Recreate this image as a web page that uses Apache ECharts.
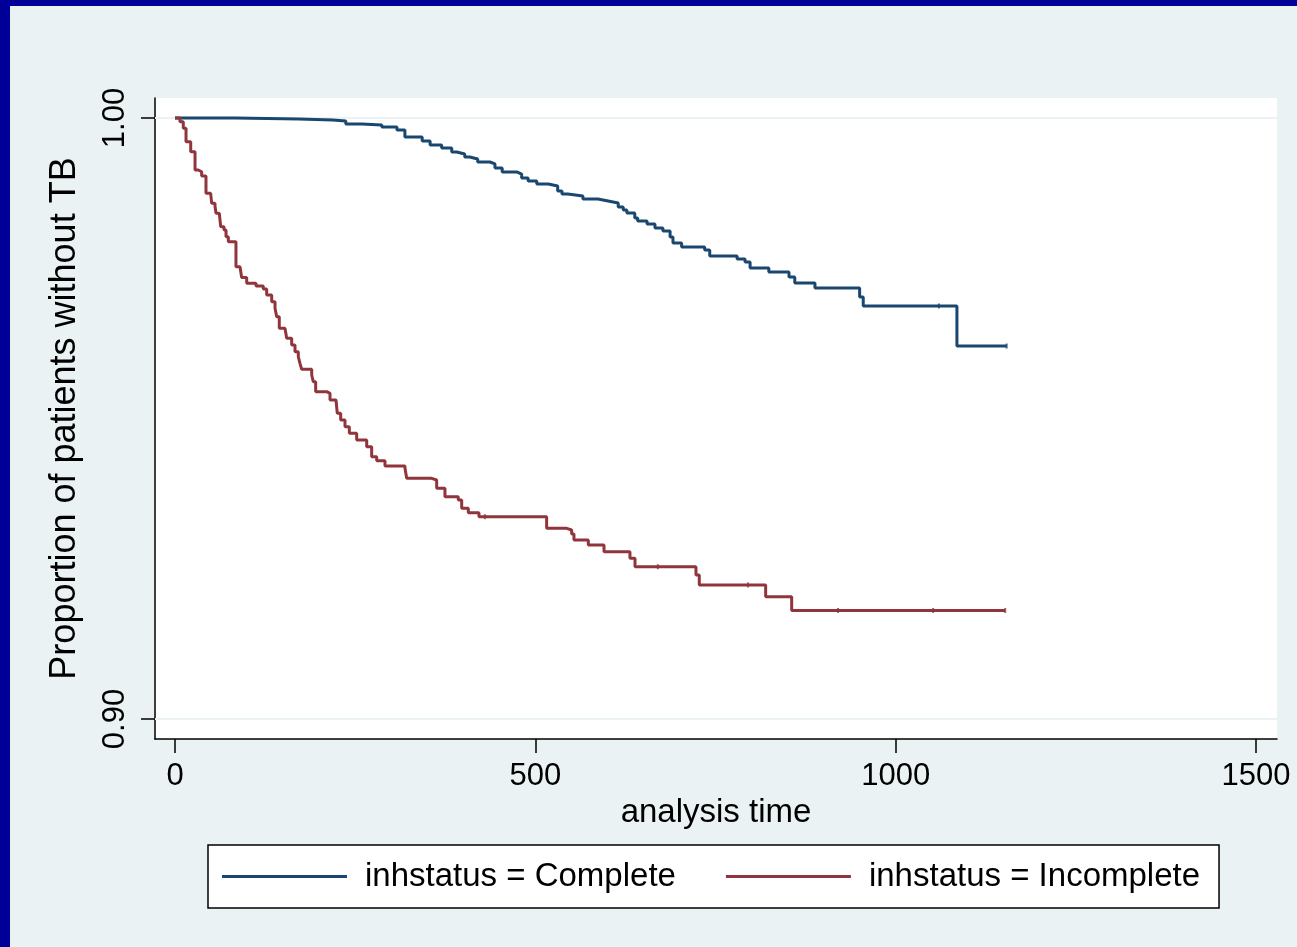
<!DOCTYPE html>
<html>
<head>
<meta charset="utf-8">
<script src="https://cdn.jsdelivr.net/npm/echarts@6/dist/echarts.min.js"></script>
<style>
html,body{margin:0;padding:0;background:#EAF2F3;}
#chart{width:1297px;height:947px;}
</style>
</head>
<body>
<div id="chart"></div>
<script>
// ---- data ----
const seriesNames = ['inhstatus = Complete', 'inhstatus = Incomplete'];
const xTicks = [0, 500, 1000, 1500];
const yTicks = [0.90, 1.00];

const completeT = [0,83,172,219,237,259,287,308,319,343,354,370,384,391,402,409,420,437,444,454,475,481,490,502,518,531,537,545,566,587,601,615,622,627,638,642,655,666,677,687,691,703,735,742,780,791,798,824,852,860,888,950,955,1085,1154];
const completeS = [1,0.99983,0.99967,0.9995,0.9990,0.99884,0.9985,0.9980,0.99684,0.99617,0.99551,0.99501,0.99434,0.99401,0.99351,0.99318,0.99268,0.99235,0.99168,0.99101,0.99068,0.99002,0.98952,0.98902,0.98869,0.98785,0.98735,0.98702,0.98652,0.98619,0.98586,0.98519,0.98469,0.98419,0.98336,0.98286,0.98236,0.98170,0.98120,0.98020,0.97920,0.97854,0.97804,0.97704,0.97654,0.97604,0.97504,0.97438,0.97354,0.97255,0.97171,0.97022,0.96872,0.96206,0.96206];
const completeCensor = [1060, 1154];

const incompleteT = [0,6.9,11.5,15.3,21.8,27.8,32.3,37.0,43.0,49.5,50.9,55.5,56.9,61.5,63.4,68.0,70.8,74.0,84.6,90.2,92.5,99.5,112.4,122.5,127.2,134.2,138.8,141.1,144.7,152.6,155.0,161.9,166.5,171.1,173.4,175.8,189.7,191.9,195.2,210.5,215.1,223.4,225.2,229.9,235.9,241.9,252.1,266.0,272.9,279.9,291.4,319.1,321.5,356.2,363.1,374.6,393.1,397.8,407.0,421.8,515.7,543.5,550.4,553.6,573.5,595.3,631.3,638.3,722.9,727.5,819.6,855.7,1151.7];
const incompleteS = [1,0.99938,0.99829,0.99606,0.99439,0.99135,0.99106,0.99035,0.98747,0.98719,0.98581,0.98536,0.98414,0.98386,0.98191,0.98136,0.98025,0.97942,0.97526,0.97499,0.97346,0.97250,0.97205,0.97155,0.97055,0.96943,0.96834,0.96694,0.96501,0.96473,0.96334,0.96223,0.96111,0.96028,0.95918,0.95819,0.95724,0.95612,0.95446,0.95419,0.95308,0.95280,0.95087,0.94975,0.94864,0.94754,0.94642,0.94531,0.94364,0.94298,0.94210,0.94176,0.94005,0.93977,0.93839,0.93699,0.93644,0.93506,0.93433,0.93366,0.93173,0.93145,0.93078,0.92978,0.92895,0.92784,0.92674,0.92534,0.92396,0.92230,0.92035,0.91806,0.91806];
const incompleteCensor = [430, 670, 795, 920, 1052, 1152];

// ---- helpers ----
function pairs(ts, ss){ return ts.map((t,i)=>[t, ss[i]]); }
function stepValue(ts, ss, t){ let v = ss[0]; for(let i=0;i<ts.length;i++){ if(ts[i] <= t) v = ss[i]; } return v; }
function censorPts(c, ts, ss){ return c.map(t=>[t, stepValue(ts, ss, t)]); }

const BLUE = '#1A476F', RED = '#90353B';
const FONT = 'Liberation Sans, Arial, Helvetica, sans-serif';
const X_MIN = -27.75, X_MAX = 1529.14;
const Y_MIN = 0.896672, Y_MAX = 1.003328;

const gridLineSeries = yTicks.map(v => ({
  type:'line', name:'gl'+v, data:[[X_MIN, v],[X_MAX, v]], symbol:'none', showSymbol:false, silent:true,
  lineStyle:{color:'#EAF2F3', width:2}, z:1, legendHoverLink:false, tooltip:{show:false}
}));

const chart = echarts.init(document.getElementById('chart'), null, {renderer:'canvas'});
chart.setOption({
  backgroundColor: '#EAF2F3',
  animation: false,
  textStyle: {fontFamily: FONT, color: '#000'},
  graphic: [
    {type:'rect', left:0, top:0, shape:{width:10, height:947}, style:{fill:'#000099'}, z:100},
    {type:'rect', left:0, top:0, shape:{width:1297, height:6}, style:{fill:'#000099'}, z:100}
  ],
  grid: {left:155, top:98, width:1122, height:641, show:true, backgroundColor:'#ffffff', borderWidth:0, containLabel:false},
  legend: {
    left: 208, top: 845,
    data: [{name:seriesNames[0], itemStyle:{color:BLUE}}, {name:seriesNames[1], itemStyle:{color:RED}}],
    icon: 'rect',
    backgroundColor:'#ffffff', borderColor:'#000', borderWidth:1.5, borderRadius:0,
    padding:[15,19,15,14],
    itemWidth:125, itemHeight:3, itemGap:50,
    textStyle:{fontSize:33, fontFamily:FONT, color:'#000', padding:[0,0,0,13]},
    selectedMode:false
  },
  xAxis: {
    type:'value', min:X_MIN, max:X_MAX,
    name:'analysis time', nameLocation:'middle', nameGap:56,
    nameTextStyle:{fontSize:33, fontFamily:FONT, color:'#000'},
    axisLine:{show:true, onZero:false, lineStyle:{color:'#000', width:1.5}},
    axisTick:{show:true, customValues:xTicks, length:14, lineStyle:{color:'#000', width:1.5}},
    axisLabel:{show:true, customValues:xTicks, fontSize:31, color:'#000', fontFamily:FONT, margin:22,
      formatter:(v)=>String(Math.round(v))},
    splitLine:{show:false}
  },
  yAxis: {
    type:'value', min:Y_MIN, max:Y_MAX,
    name:'Proportion of patients without TB', nameLocation:'middle', nameGap:72, nameRotate:90,
    nameTextStyle:{fontSize:36, fontFamily:FONT, color:'#000'},
    axisLine:{show:true, onZero:false, lineStyle:{color:'#000', width:1.5}},
    axisTick:{show:true, customValues:yTicks, length:14, lineStyle:{color:'#000', width:1.5}},
    axisLabel:{show:true, customValues:yTicks, rotate:90, fontSize:31, color:'#000', fontFamily:FONT, margin:24,
      formatter:(v)=>Number(v).toFixed(2)},
    splitLine:{show:false}
  },
  series: gridLineSeries.concat([
    {type:'line', name:seriesNames[0], data:pairs(completeT, completeS), step:'end', showSymbol:false, symbol:'none',
      color:BLUE, lineStyle:{color:BLUE, width:3}, itemStyle:{color:BLUE}, z:3},
    {type:'line', name:seriesNames[1], data:pairs(incompleteT, incompleteS), step:'end', showSymbol:false, symbol:'none',
      color:RED, lineStyle:{color:RED, width:3}, itemStyle:{color:RED}, z:3},
    {type:'scatter', name:'c1', data:censorPts(completeCensor, completeT, completeS), symbol:'rect', symbolSize:[2,5],
      itemStyle:{color:BLUE}, z:4, silent:true},
    {type:'scatter', name:'c2', data:censorPts(incompleteCensor, incompleteT, incompleteS), symbol:'rect', symbolSize:[2,5],
      itemStyle:{color:RED}, z:4, silent:true}
  ])
});
</script>
</body>
</html>
